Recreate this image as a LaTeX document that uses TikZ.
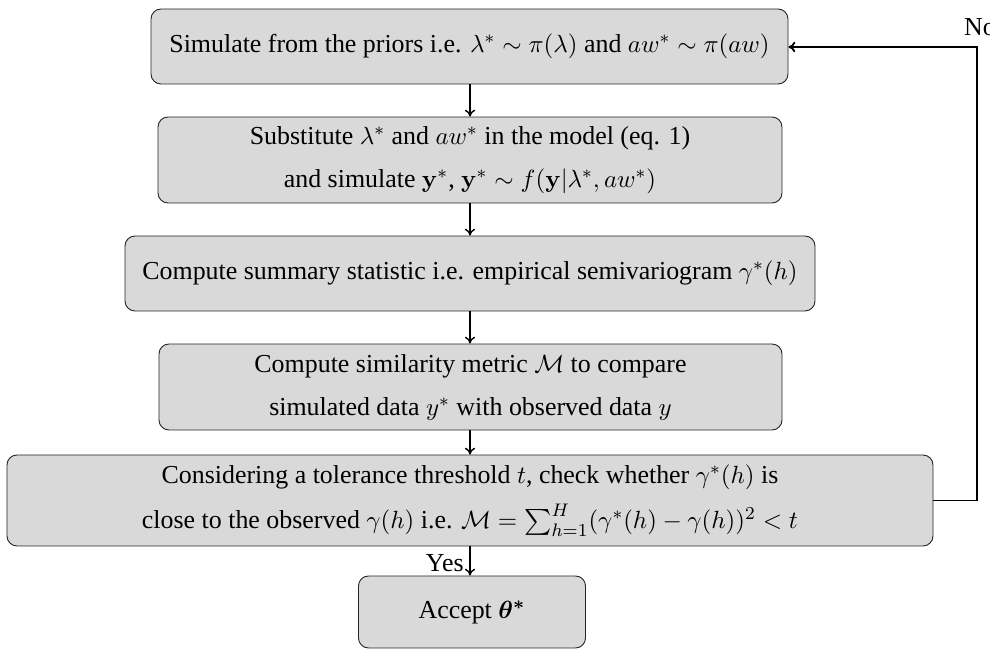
\documentclass[tikz,border=0pt]{standalone}
\usepackage{amsmath,amssymb}
\usepackage[no-math]{fontspec}
\setmainfont{Liberation Serif}
\usetikzlibrary{arrows.meta}
\tikzset{
  stepbox/.style={draw=black!85, line width=0.4pt, fill=black!15, rounded corners=4.4pt,
    align=center, inner sep=0pt, font=\fontsize{11.4}{13.7}\selectfont},
  conn/.style={line width=0.6pt, -{To[length=3pt,width=4.5pt]}},
  loopline/.style={line width=0.8pt, -{To[length=3pt,width=4.5pt]}},
  lbl/.style={font=\fontsize{11.4}{13.7}\selectfont},
}
\begin{document}
\begin{tikzpicture}[x=0.44pt,y=-0.44pt]
\useasboundingbox (0,0) rectangle (990,650);
\node[stepbox, minimum width=637*0.44pt, minimum height=75*0.44pt] (b1) at (469.5,46.5)
  {Simulate from the priors i.e. $\lambda^* \sim \pi(\lambda)$ and $aw^* \sim \pi(aw)$};
\node[stepbox, minimum width=624*0.44pt, minimum height=86*0.44pt] (b2) at (470,160)
  {Substitute $\lambda^*$ and $aw^*$ in the model (eq. 1)\\[5.2pt]
   and simulate $\mathbf{y}^*$, $\mathbf{y}^* \sim f(\mathbf{y}|\lambda^*, aw^*)$};
\node[stepbox, minimum width=690*0.44pt, minimum height=75*0.44pt] (b3) at (470,273.5)
  {Compute summary statistic i.e. empirical semivariogram $\gamma^*(h)$};
\node[stepbox, minimum width=623*0.44pt, minimum height=86*0.44pt] (b4) at (470.5,387)
  {Compute similarity metric $\mathcal{M}$ to compare\\[5.2pt]
   simulated data $y^*$ with observed data $y$};
\node[stepbox, minimum width=926*0.44pt, minimum height=91*0.44pt] (b5) at (470,500.5)
  {Considering a tolerance threshold $t$, check whether $\gamma^*(h)$ is\\[6.2pt]
   close to the observed $\gamma(h)$ i.e. $\mathcal{M} = \sum_{h=1}^{H}(\gamma^*(h) - \gamma(h))^2 < t$};
\node[stepbox, minimum width=227*0.44pt, minimum height=72*0.44pt] (b6) at (472,612)
  {Accept $\boldsymbol{\theta^*}$};
\coordinate (c1) at (977,500.5);
\coordinate (c2) at (977,47);
\draw[conn] (b1.south -| 470,0) -- (b2.north -| 470,0);
\draw[conn] (b2.south -| 470,0) -- (b3.north -| 470,0);
\draw[conn] (b3.south -| 470,0) -- (b4.north -| 470,0);
\draw[conn] (b4.south -| 470,0) -- (b5.north -| 470,0);
\draw[conn] (b5.south -| 470,0) -- node[left, lbl, inner sep=2.5pt, yshift=-1pt] (yes) {Yes} (b6.north -| 470,0);
\draw[loopline] (b5.east) -- (c1) -- (c2) -- (b1.east |- c2);
\node[anchor=base, lbl, inner sep=0pt] (no) at (980,36) {No};
\end{tikzpicture}
\end{document}
